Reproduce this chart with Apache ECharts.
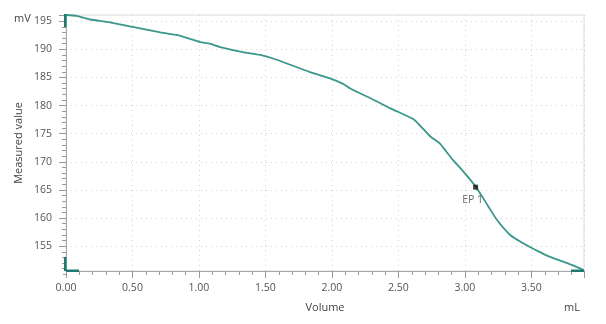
<!DOCTYPE html>
<html>
<head>
<meta charset="utf-8">
<script src="https://cdn.jsdelivr.net/npm/echarts@6/dist/echarts.min.js"></script>
<style>html,body{margin:0;padding:0;background:#fff}#c{width:606px;height:324px}</style>
</head>
<body>
<div id="c"></div>
<script>
var volume = [0.00,0.08,0.18,0.33,0.50,0.71,0.86,1.01,1.08,1.16,1.33,1.46,1.59,1.83,1.99,2.08,2.14,2.29,2.44,2.61,2.66,2.74,2.81,2.86,2.91,2.98,3.03,3.08,3.17,3.24,3.34,3.44,3.56,3.64,3.77,3.89];
var measured = [196.1,195.95,195.3,194.8,194.0,193.0,192.4,191.3,191.0,190.4,189.5,189.0,188.1,186.0,184.8,183.9,183.0,181.3,179.5,177.6,176.5,174.5,173.3,171.8,170.3,168.5,167.1,165.6,162.3,159.7,157.0,155.5,154.0,153.1,152.0,150.8];
var endpointVolume = [3.08];
var endpointValue = [165.5];
var endpointLabel = ['EP 1'];
var xTickLabels = ['0.00','0.50','1.00','1.50','2.00','2.50','3.00','3.50'];
var yTickLabels = ['155','160','165','170','175','180','185','190','195'];

var lineData = volume.map(function(v,i){return [v, measured[i]];});
var epData = endpointVolume.map(function(v,i){return {value:[v, endpointValue[i]], name:endpointLabel[i]};});

var yMin = 150.6, yMax = 196.1, yTickBase = 150;
var gTop = 15, gBottom = 53, H = 324;
var pxPerUnit = (H - gTop - gBottom) / (yMax - yMin);
var g2Bottom = gBottom - (yMin - yTickBase) * pxPerUnit;

var chart = echarts.init(document.getElementById('c'));
var font = '"Open Sans", "Noto Sans", sans-serif';
var teal = '#1e7a70';
chart.setOption({
  animation:false,
  grid:[
    {left:66, top:gTop, right:22, bottom:gBottom, show:true, borderColor:'#dcdcdc', borderWidth:1},
    {left:66, top:gTop, right:22, bottom:g2Bottom, show:false}
  ],
  xAxis:[{
    type:'value', gridIndex:0, min:0, max:3.895, interval:0.5,
    name:'Volume', nameLocation:'middle', nameGap:31,
    nameTextStyle:{color:'#444', fontSize:11, fontFamily:font},
    axisLine:{show:true, lineStyle:{color:'#aaa'}},
    axisTick:{show:true, length:7, lineStyle:{color:'#999'}},
    minorTick:{show:true, splitNumber:5, length:4, lineStyle:{color:'#999'}},
    splitLine:{show:true, lineStyle:{color:'#d4d4d4', type:[1,4]}},
    axisLabel:{color:'#555', fontSize:10.5, fontFamily:font, margin:12,
      formatter:function(v){var s=v.toFixed(2); return xTickLabels.indexOf(s)>=0?s:'';}}
  },{
    type:'value', gridIndex:1, min:0, max:3.895, show:false
  }],
  yAxis:[{
    type:'value', gridIndex:0, min:yMin, max:yMax,
    name:'Measured value', nameLocation:'middle', nameGap:42, nameRotate:90,
    nameTextStyle:{color:'#444', fontSize:11, fontFamily:font},
    axisLine:{show:true, lineStyle:{color:'#aaa'}},
    axisTick:{show:false}, axisLabel:{show:false}, splitLine:{show:false}
  },{
    type:'value', gridIndex:1, min:yTickBase, max:yMax, interval:5,
    axisLine:{show:false},
    axisTick:{show:true, length:7, lineStyle:{color:'#999'}},
    minorTick:{show:true, splitNumber:5, length:4, lineStyle:{color:'#999'}},
    splitLine:{show:true, showMinLine:false, showMaxLine:false, lineStyle:{color:'#d4d4d4', type:[1,4]}},
    axisLabel:{color:'#555', fontSize:10.5, fontFamily:font, margin:14,
      formatter:function(v){var s=String(Math.round(v)); return (Math.abs(v-Math.round(v))<1e-6 && yTickLabels.indexOf(s)>=0)?s:'';}}
  }],
  series:[
    {type:'line', xAxisIndex:0, yAxisIndex:0, data:lineData, showSymbol:false, smooth:0.2,
     lineStyle:{color:'#3a978b', width:1.8}, z:3},
    {type:'scatter', xAxisIndex:0, yAxisIndex:0, data:epData, symbol:'rect', symbolSize:5,
     itemStyle:{color:'#111'}, z:4,
     label:{show:true, position:'bottom', distance:5, offset:[-3,0], formatter:'{b}',
       color:'#444', fontSize:10.5, fontFamily:font}}
  ],
  graphic:[
    {type:'text', left:14, top:13, style:{text:'mV', fill:'#444', font:'11px '+font}},
    {type:'text', left:564, top:302, style:{text:'mL', fill:'#444', font:'11px '+font}},
    {type:'rect', shape:{x:50, y:273, width:13, height:4}, style:{fill:'#fff'}, z:9},
    {type:'rect', shape:{x:64, y:14, width:2.5, height:13}, style:{fill:teal}, z:10},
    {type:'rect', shape:{x:64, y:257, width:2.5, height:14}, style:{fill:teal}, z:10},
    {type:'rect', shape:{x:66, y:269.5, width:13, height:2.5}, style:{fill:teal}, z:10},
    {type:'rect', shape:{x:571, y:269.5, width:13, height:2.5}, style:{fill:teal}, z:10}
  ]
});
</script>
</body>
</html>
